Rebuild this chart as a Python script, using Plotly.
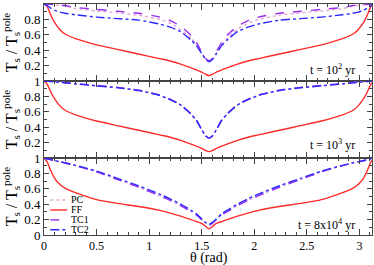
import plotly.graph_objects as go
from plotly.subplots import make_subplots

theta = [0, 0.03, 0.06, 0.1, 0.15, 0.2, 0.3, 0.5, 0.7, 0.9, 1.1, 1.2, 1.3, 1.4, 1.45, 1.5, 1.54,
         1.5708,
         1.6, 1.64, 1.69, 1.74, 1.84, 1.94, 2.04, 2.24, 2.44, 2.64, 2.84, 2.94, 2.99, 3.04, 3.08, 3.11, 3.1416]

# panel 1: t = 10^2 yr
pc_1  = [1.0, 0.999, 0.995, 0.99, 0.98, 0.975, 0.94, 0.91, 0.885, 0.855, 0.80, 0.75, 0.67, 0.555, 0.475, 0.365, 0.285,
         0.262,
         0.285, 0.365, 0.475, 0.555, 0.67, 0.75, 0.80, 0.855, 0.885, 0.91, 0.94, 0.975, 0.98, 0.99, 0.995, 0.999, 1.0]
ff_1  = [1.0, 0.97, 0.87, 0.76, 0.67, 0.61, 0.55, 0.47, 0.41, 0.35, 0.29, 0.26, 0.22, 0.17, 0.145, 0.115, 0.085,
         0.07,
         0.085, 0.115, 0.145, 0.17, 0.22, 0.26, 0.29, 0.35, 0.41, 0.47, 0.55, 0.61, 0.67, 0.76, 0.87, 0.97, 1.0]
tc1_1 = [1.0, 0.998, 0.995, 0.99, 0.985, 0.98, 0.955, 0.93, 0.905, 0.88, 0.83, 0.785, 0.71, 0.59, 0.50, 0.38, 0.29,
         0.265,
         0.29, 0.38, 0.50, 0.59, 0.71, 0.785, 0.83, 0.88, 0.905, 0.93, 0.955, 0.98, 0.985, 0.99, 0.995, 0.998, 1.0]
tc2_1 = [1.0, 0.98, 0.95, 0.92, 0.895, 0.88, 0.86, 0.83, 0.81, 0.79, 0.74, 0.70, 0.64, 0.53, 0.46, 0.355, 0.275,
         0.25,
         0.275, 0.355, 0.46, 0.53, 0.64, 0.70, 0.74, 0.79, 0.81, 0.83, 0.86, 0.88, 0.895, 0.92, 0.95, 0.98, 1.0]

# panel 2: t = 10^3 yr
pc_2  = [1.0, 0.998, 0.995, 0.99, 0.985, 0.98, 0.965, 0.94, 0.915, 0.88, 0.815, 0.76, 0.69, 0.57, 0.49, 0.37, 0.285,
         0.26,
         0.285, 0.37, 0.49, 0.57, 0.69, 0.76, 0.815, 0.88, 0.915, 0.94, 0.965, 0.98, 0.985, 0.99, 0.995, 0.998, 1.0]
ff_2  = [1.0, 0.96, 0.87, 0.77, 0.68, 0.62, 0.56, 0.48, 0.42, 0.36, 0.30, 0.27, 0.23, 0.18, 0.155, 0.125, 0.095,
         0.083,
         0.095, 0.125, 0.155, 0.18, 0.23, 0.27, 0.30, 0.36, 0.42, 0.48, 0.56, 0.62, 0.68, 0.77, 0.87, 0.96, 1.0]
tc1_2 = [1.0, 0.998, 0.995, 0.99, 0.985, 0.98, 0.966, 0.942, 0.917, 0.882, 0.818, 0.763, 0.692, 0.572, 0.492, 0.372, 0.287,
         0.262,
         0.287, 0.372, 0.492, 0.572, 0.692, 0.763, 0.818, 0.882, 0.917, 0.942, 0.966, 0.98, 0.985, 0.99, 0.995, 0.998, 1.0]
tc2_2 = [1.0, 0.997, 0.994, 0.989, 0.983, 0.977, 0.962, 0.937, 0.912, 0.877, 0.812, 0.757, 0.687, 0.567, 0.487, 0.367, 0.282,
         0.258,
         0.282, 0.367, 0.487, 0.567, 0.687, 0.757, 0.812, 0.877, 0.912, 0.937, 0.962, 0.977, 0.983, 0.989, 0.994, 0.997, 1.0]

# panel 3: t = 8x10^4 yr
pc_3  = [1.0, 0.99, 0.98, 0.965, 0.95, 0.935, 0.90, 0.82, 0.72, 0.62, 0.51, 0.45, 0.38, 0.30, 0.26, 0.20, 0.15,
         0.13,
         0.15, 0.20, 0.26, 0.30, 0.38, 0.45, 0.51, 0.62, 0.72, 0.82, 0.90, 0.935, 0.95, 0.965, 0.98, 0.99, 1.0]
ff_3  = [1.0, 0.95, 0.85, 0.74, 0.66, 0.61, 0.55, 0.46, 0.41, 0.37, 0.32, 0.285, 0.245, 0.20, 0.175, 0.15, 0.11,
         0.08,
         0.11, 0.15, 0.175, 0.20, 0.245, 0.285, 0.32, 0.37, 0.41, 0.46, 0.55, 0.61, 0.66, 0.74, 0.85, 0.95, 1.0]
tc1_3 = [1.0, 0.99, 0.98, 0.965, 0.95, 0.935, 0.90, 0.82, 0.72, 0.62, 0.51, 0.45, 0.38, 0.30, 0.26, 0.20, 0.15,
         0.13,
         0.15, 0.20, 0.26, 0.30, 0.38, 0.45, 0.51, 0.62, 0.72, 0.82, 0.90, 0.935, 0.95, 0.965, 0.98, 0.99, 1.0]
tc2_3 = [1.0, 0.99, 0.98, 0.967, 0.953, 0.938, 0.905, 0.83, 0.735, 0.64, 0.53, 0.47, 0.40, 0.32, 0.275, 0.21, 0.16,
         0.14,
         0.16, 0.21, 0.275, 0.32, 0.40, 0.47, 0.53, 0.64, 0.735, 0.83, 0.905, 0.938, 0.953, 0.967, 0.98, 0.99, 1.0]

panels = [
    (pc_1, ff_1, tc1_1, tc2_1),
    (pc_2, ff_2, tc1_2, tc2_2),
    (pc_3, ff_3, tc1_3, tc2_3),
]
time_labels = ["t = 10<sup>2</sup> yr", "t = 10<sup>3</sup> yr", "t = 8x10<sup>4</sup> yr"]
series_names = ["PC", "FF", "TC1", "TC2"]
series_colors = ["#e0a8d8", "#ff2a2a", "#9a30f0", "#2a2aff"]
series_dash = ["dot", "solid", "dash", "dashdot"]

x_ticks = [0, 0.5, 1, 1.5, 2, 2.5, 3]
x_ticklabels = ["0", "0.5", "1", "1.5", "2", "2.5", "3"]

FONT = "Liberation Serif"

fig = make_subplots(rows=3, cols=1, shared_xaxes=True, vertical_spacing=0)

for r, data in enumerate(panels, start=1):
    for i, ys in enumerate(data):
        fig.add_trace(go.Scatter(
            x=theta, y=ys, mode="lines", name=series_names[i],
            line=dict(color=series_colors[i], dash=series_dash[i], width=1.4,
                      shape="spline", smoothing=0.6),
            showlegend=False,
        ), row=r, col=1)

axis_common = dict(showline=True, linecolor="#444", linewidth=1, mirror="ticks",
                   ticks="inside", tickcolor="#444", showgrid=False, zeroline=False)

for r in range(1, 4):
    fig.update_xaxes(range=[0, 3.12], tickvals=x_ticks, ticktext=x_ticklabels,
                     ticklen=6, minor=dict(dtick=0.1, tick0=0, ticklen=3, ticks="inside", tickcolor="#444"),
                     showticklabels=(r == 3), tickfont=dict(family=FONT, size=12, color="black"),
                     automargin=False, row=r, col=1, **axis_common)
    yt = [0.2, 0.4, 0.6, 0.8, 1] if r < 3 else [0, 0.2, 0.4, 0.6, 0.8, 1]
    fig.update_yaxes(range=[0, 1], tickvals=yt, ticktext=[("%g" % v) for v in yt],
                     ticklen=5, minor=dict(dtick=0.1, tick0=0, ticklen=3, ticks="inside", tickcolor="#444"),
                     tickfont=dict(family=FONT, size=13, color="black"), automargin=False,
                     title=dict(text="T<sub>s</sub> / T<sub>s</sub><sup>pole</sup>",
                                font=dict(family=FONT, size=16, color="black"), standoff=2),
                     row=r, col=1, **axis_common)

# x-axis title placed as a paper annotation below the tick labels
fig.add_annotation(xref="paper", yref="paper", x=0.503, y=0, yshift=-23, xanchor="center", yanchor="middle",
                   text="θ (rad)", showarrow=False, borderpad=0, font=dict(family=FONT, size=14, color="black"))

ann_pos = [(2.74, 0.15), (2.74, 0.17), (2.69, 0.13)]
for r, (txt, (ax_, ay_)) in enumerate(zip(time_labels, ann_pos), start=1):
    fig.add_annotation(x=ax_, y=ay_, xref=f"x{'' if r == 1 else r}", yref=f"y{'' if r == 1 else r}",
                       text=txt, showarrow=False, font=dict(family=FONT, size=12, color="black"))

# compact legend in the bottom panel
leg_y = [0.455, 0.325, 0.196, 0.068]
for i in range(4):
    fig.add_shape(type="line", xref="x3", yref="y3", x0=0.06, x1=0.22, y0=leg_y[i], y1=leg_y[i],
                  line=dict(color=series_colors[i], dash=series_dash[i], width=1.4))
    fig.add_annotation(xref="x3", yref="y3", x=0.25, y=leg_y[i], text=series_names[i], showarrow=False,
                       xanchor="left", yanchor="middle", borderpad=0,
                       font=dict(family=FONT, size=10, color="black"))

fig.update_layout(
    width=374, height=265,
    margin=dict(l=44, r=2, t=4, b=30),
    paper_bgcolor="white", plot_bgcolor="white",
    font=dict(family=FONT, color="black"),
    showlegend=False,
)

fig.write_html("out.html", config={"displayModeBar": False},
               post_script="document.body.style.margin='0';document.body.style.overflow='hidden';")
